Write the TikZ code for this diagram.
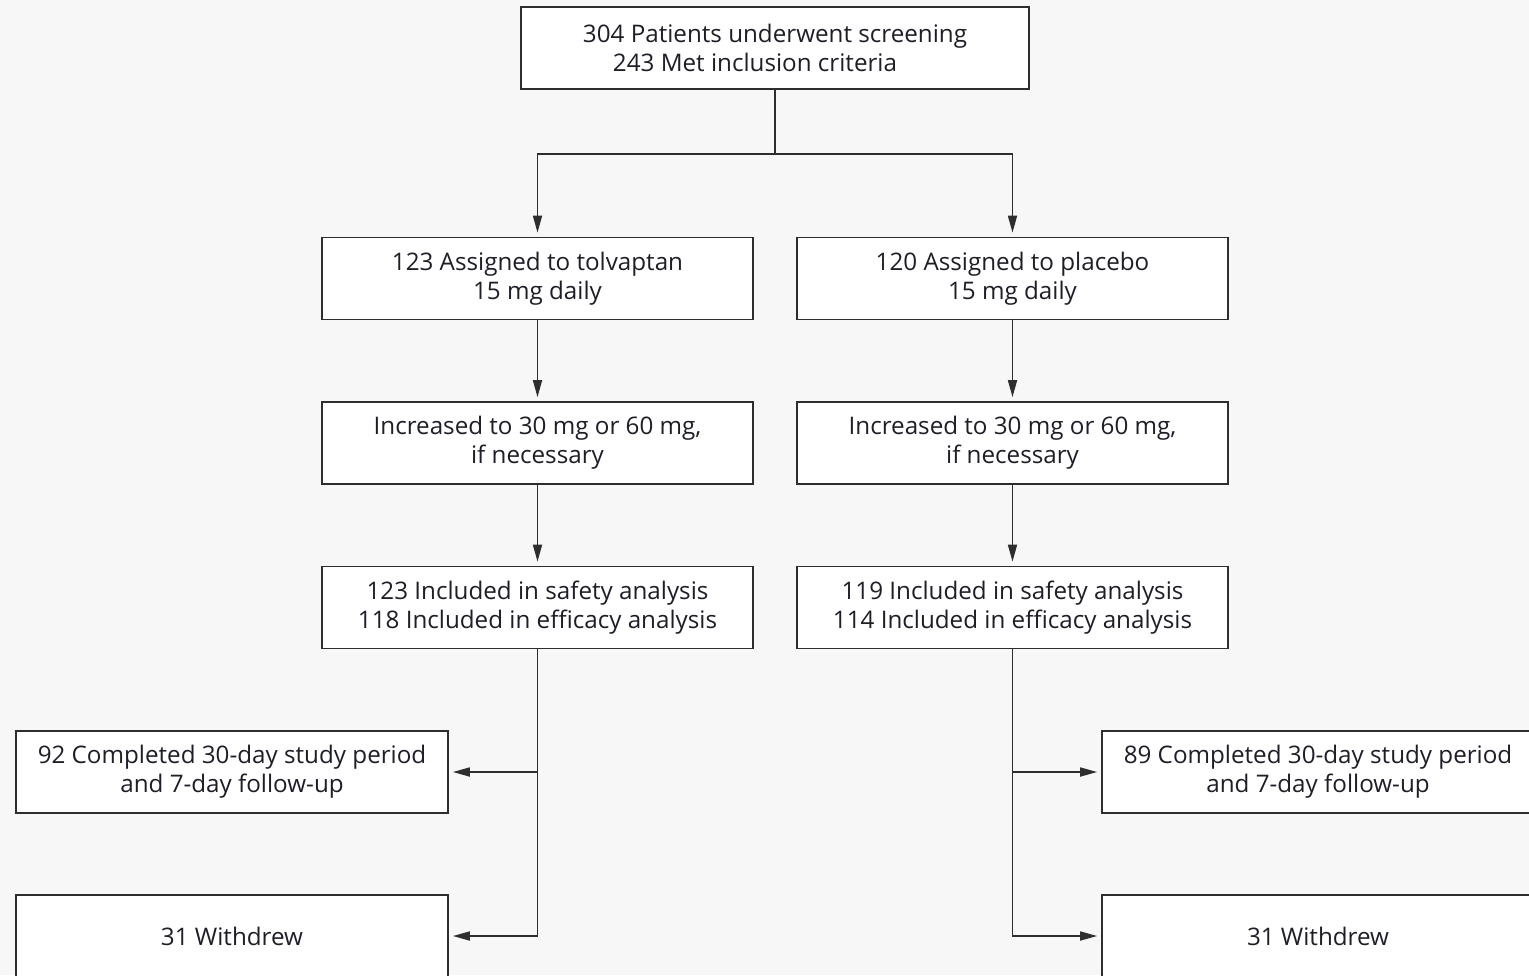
\documentclass[tikz,border=0pt]{standalone}
\usepackage{fontspec}
\setmainfont{Open Sans}
\usetikzlibrary{arrows.meta}
\definecolor{bg}{HTML}{F7F7F7}
\definecolor{ln}{HTML}{2E2E2E}
\definecolor{tx}{HTML}{1E1E28}
\tikzset{
  box/.style={draw=ln, fill=white, line width=1.7pt, inner sep=0pt, align=center,
    minimum width=431pt, minimum height=82pt, text=tx,
    font=\fontsize{24.2pt}{29pt}\selectfont},
  arr/.style={draw=ln, line width=1.7pt, -{Triangle[length=17pt,width=9pt]}, shorten >=4pt},
  ln/.style={draw=ln, line width=1.7pt}
}
\begin{document}
\begin{tikzpicture}[x=1pt,y=-1pt]
\useasboundingbox (0,0) rectangle (1529,975);
\clip (0,0) rectangle (1529,975);
\fill[bg] (0,0) rectangle (1529,975);
\node[box, minimum width=508pt] (top) at (775,48) {304 Patients underwent screening\\243 Met inclusion criteria\hspace*{40pt}};
\node[box] (l2) at (537.5,278.5) {123 Assigned to tolvaptan\\15 mg daily};
\node[box] (r2) at (1012.5,278.5) {120 Assigned to placebo\\15 mg daily};
\node[box] (l3) at (537.5,443) {Increased to 30 mg or 60 mg,\\if necessary};
\node[box] (r3) at (1012.5,443) {Increased to 30 mg or 60 mg,\\if necessary};
\node[box] (l4) at (537.5,607.5) {123 Included in safety analysis\\118 Included in efficacy analysis};
\node[box] (r4) at (1012.5,607.5) {119 Included in safety analysis\\114 Included in efficacy analysis};
\node[box, minimum width=432pt] (lc) at (232,772) {92 Completed 30-day study period\\and 7-day follow-up};
\node[box, minimum width=432pt] (lw) at (232,936) {31 Withdrew};
\node[box, minimum width=432pt] (rc) at (1318,772) {89 Completed 30-day study period\\and 7-day follow-up};
\node[box, minimum width=432pt] (rw) at (1318,936) {31 Withdrew};
\coordinate (split) at (775,154);
\draw[ln] (top.south) -- (split);
\draw[arr] (split) -| (l2.north);
\draw[arr] (split) -| (r2.north);
\draw[arr] (l2) -- (l3);
\draw[arr] (r2) -- (r3);
\draw[arr] (l3) -- (l4);
\draw[arr] (r3) -- (r4);
\draw[arr] (l4.south) |- (lw.east);
\draw[arr] (l4.south |- lc.east) -- (lc.east);
\draw[arr] (r4.south) |- (rw.west);
\draw[arr] (r4.south |- rc.west) -- (rc.west);
\end{tikzpicture}
\end{document}
